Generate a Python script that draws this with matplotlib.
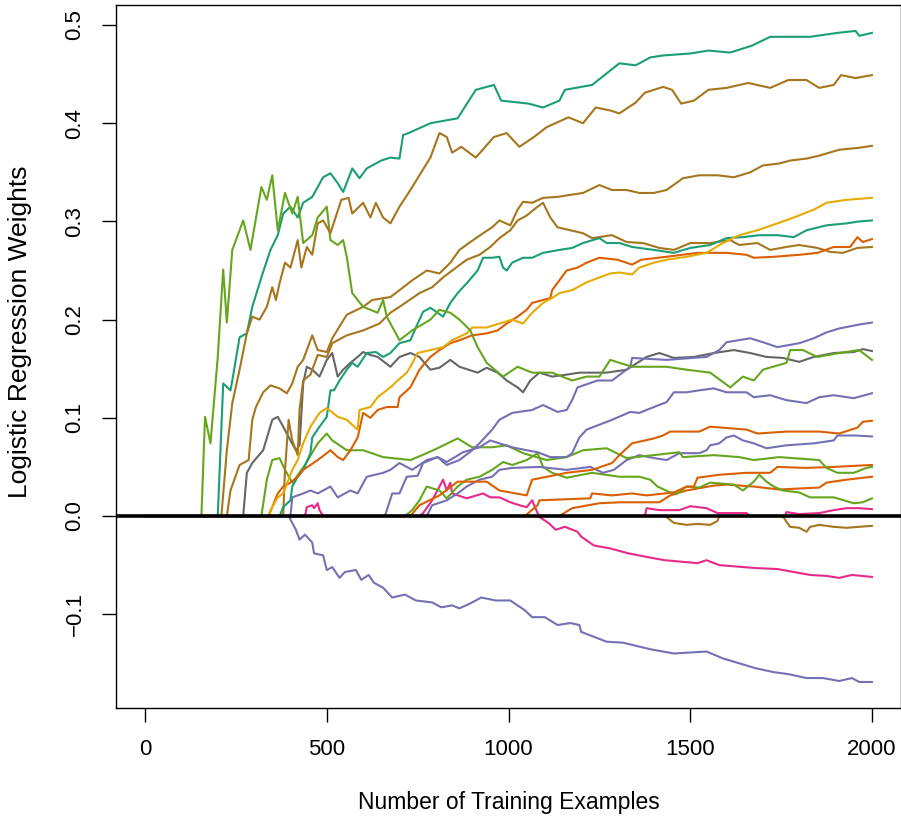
import matplotlib
matplotlib.use("Agg")
import matplotlib.pyplot as plt

plt.rcParams['font.family'] = ['Liberation Sans', 'DejaVu Sans']

# =========================
# DATA (weights vs number of training examples)
# =========================
teal_a_x = [0, 200, 215, 235, 240, 260, 280, 295, 320, 345, 365, 380, 400, 420, 435, 460, 490, 510, 530, 545,
            565, 570, 590, 610, 650, 675, 700, 710, 725, 785, 860, 910, 960, 980, 1055, 1095, 1140, 1155, 1230,
            1305, 1350, 1390, 1425, 1500, 1550, 1610, 1670, 1720, 1830, 1905, 1955, 1965, 2000]
teal_a_y = [0, 0, 0.135, 0.128, 0.138, 0.182, 0.186, 0.213, 0.243, 0.271, 0.286, 0.308, 0.315, 0.304, 0.319,
            0.325, 0.345, 0.349, 0.339, 0.330, 0.349, 0.354, 0.344, 0.354, 0.362, 0.365, 0.364, 0.388, 0.390,
            0.400, 0.405, 0.434, 0.439, 0.423, 0.420, 0.416, 0.423, 0.434, 0.439, 0.461, 0.459, 0.467, 0.469,
            0.471, 0.474, 0.472, 0.479, 0.488, 0.488, 0.492, 0.494, 0.489, 0.492]

brown_a_x = [0, 210, 225, 240, 260, 280, 295, 315, 335, 350, 360, 370, 385, 400, 420, 430, 445, 460, 475, 490,
             510, 540, 560, 570, 600, 620, 635, 655, 675, 700, 730, 785, 810, 830, 845, 870, 910, 960, 995,
             1030, 1070, 1105, 1165, 1205, 1240, 1280, 1305, 1350, 1375, 1425, 1450, 1475, 1510, 1550, 1600,
             1660, 1720, 1770, 1820, 1855, 1895, 1915, 1955, 2000]
brown_a_y = [0, 0, 0.067, 0.115, 0.149, 0.186, 0.203, 0.200, 0.213, 0.233, 0.220, 0.237, 0.258, 0.253, 0.281,
             0.253, 0.274, 0.266, 0.298, 0.301, 0.288, 0.322, 0.324, 0.308, 0.319, 0.304, 0.319, 0.304, 0.298,
             0.315, 0.332, 0.365, 0.390, 0.386, 0.370, 0.376, 0.365, 0.386, 0.390, 0.376, 0.386, 0.396, 0.406,
             0.400, 0.416, 0.413, 0.410, 0.421, 0.431, 0.437, 0.434, 0.420, 0.423, 0.434, 0.436, 0.441, 0.436,
             0.444, 0.444, 0.436, 0.439, 0.449, 0.446, 0.449]

brown_b_x = [0, 225, 235, 260, 285, 295, 305, 325, 345, 370, 390, 405, 420, 435, 460, 475, 500, 515, 555, 600,
             625, 675, 700, 735, 775, 810, 840, 865, 895, 930, 955, 975, 1005, 1025, 1040, 1065, 1095, 1135,
             1170, 1205, 1250, 1285, 1325, 1360, 1400, 1435, 1480, 1525, 1575, 1620, 1665, 1700, 1745, 1775,
             1820, 1855, 1910, 1965, 2000]
brown_b_y = [0, 0, 0.026, 0.052, 0.057, 0.098, 0.111, 0.126, 0.133, 0.130, 0.125, 0.135, 0.152, 0.159, 0.184,
             0.169, 0.167, 0.181, 0.205, 0.213, 0.220, 0.223, 0.230, 0.240, 0.250, 0.247, 0.258, 0.271, 0.279,
             0.288, 0.294, 0.301, 0.296, 0.312, 0.320, 0.319, 0.324, 0.325, 0.327, 0.329, 0.337, 0.332, 0.332,
             0.329, 0.329, 0.332, 0.344, 0.347, 0.347, 0.345, 0.350, 0.357, 0.359, 0.362, 0.364, 0.367, 0.373,
             0.375, 0.377]

brown_c_x = [0, 380, 385, 395, 405, 420, 425, 435, 455, 475, 500, 515, 555, 600, 645, 675, 700, 755, 790, 820,
             845, 885, 920, 950, 975, 1005, 1025, 1050, 1080, 1095, 1115, 1135, 1170, 1205, 1230, 1285, 1325,
             1370, 1415, 1455, 1500, 1555, 1610, 1635, 1685, 1720, 1765, 1800, 1850, 1885, 1920, 1960, 2000]
brown_c_y = [0, 0, 0.047, 0.098, 0.077, 0.062, 0.108, 0.138, 0.144, 0.164, 0.162, 0.176, 0.184, 0.189, 0.196,
             0.207, 0.213, 0.227, 0.233, 0.243, 0.250, 0.261, 0.266, 0.274, 0.283, 0.291, 0.301, 0.306, 0.315,
             0.319, 0.304, 0.294, 0.291, 0.288, 0.283, 0.286, 0.279, 0.278, 0.273, 0.271, 0.278, 0.278, 0.281,
             0.276, 0.278, 0.271, 0.274, 0.276, 0.273, 0.269, 0.268, 0.273, 0.274]

brown_d_x = [0, 1430, 1435, 1455, 1490, 1520, 1555, 1575, 1580, 1755, 1765, 1775, 1800, 1820, 1830, 1855,
             1895, 1930, 1965, 2000]
brown_d_y = [0, 0, -0.001, -0.007, -0.009, -0.008, -0.009, -0.005, 0, 0, -0.006, -0.011, -0.012, -0.016,
             -0.011, -0.009, -0.011, -0.012, -0.011, -0.010]

teal_b_x = [0, 370, 380, 400, 405, 420, 435, 455, 460, 480, 500, 510, 520, 535, 555, 570, 585, 610, 635, 655,
            675, 700, 730, 750, 765, 785, 805, 820, 840, 860, 885, 915, 930, 955, 975, 985, 995, 1010, 1040,
            1065, 1095, 1140, 1175, 1205, 1250, 1270, 1305, 1340, 1400, 1455, 1500, 1555, 1600, 1645, 1690,
            1740, 1785, 1820, 1875, 1930, 1965, 2000]
teal_b_y = [0, 0, 0.009, 0.016, 0.030, 0.040, 0.047, 0.064, 0.080, 0.091, 0.101, 0.128, 0.128, 0.138, 0.149,
            0.156, 0.152, 0.166, 0.167, 0.162, 0.166, 0.176, 0.179, 0.196, 0.208, 0.212, 0.207, 0.203, 0.217,
            0.227, 0.237, 0.250, 0.263, 0.263, 0.264, 0.253, 0.250, 0.258, 0.263, 0.263, 0.268, 0.271, 0.273,
            0.278, 0.283, 0.278, 0.278, 0.274, 0.271, 0.268, 0.273, 0.276, 0.283, 0.284, 0.286, 0.286, 0.284,
            0.291, 0.296, 0.298, 0.300, 0.301]

yellow_x = [0, 340, 345, 365, 380, 405, 420, 435, 455, 480, 500, 530, 555, 585, 590, 620, 640, 675, 695, 720,
            730, 750, 785, 820, 845, 885, 900, 940, 975, 1010, 1040, 1065, 1095, 1120, 1140, 1175, 1215, 1250,
            1280, 1305, 1340, 1360, 1400, 1435, 1490, 1545, 1590, 1635, 1685, 1740, 1785, 1840, 1875, 1930,
            2000]
yellow_y = [0, 0, 0.006, 0.019, 0.023, 0.047, 0.057, 0.074, 0.091, 0.105, 0.110, 0.101, 0.098, 0.088, 0.108,
            0.111, 0.121, 0.131, 0.138, 0.146, 0.152, 0.166, 0.169, 0.172, 0.179, 0.186, 0.192, 0.192, 0.196,
            0.200, 0.196, 0.207, 0.217, 0.222, 0.227, 0.230, 0.238, 0.243, 0.247, 0.248, 0.246, 0.253, 0.258,
            0.261, 0.264, 0.268, 0.278, 0.286, 0.291, 0.298, 0.304, 0.312, 0.319, 0.322, 0.324]

orange_a_x = [0, 340, 365, 380, 400, 420, 435, 475, 500, 510, 530, 545, 565, 585, 600, 620, 640, 665, 695, 700,
              730, 755, 785, 810, 840, 865, 900, 940, 970, 995, 1025, 1050, 1065, 1095, 1115, 1120, 1140, 1160,
              1190, 1215, 1250, 1300, 1340, 1365, 1435, 1520, 1600, 1655, 1675, 1730, 1800, 1850, 1895, 1940,
              1960, 1975, 2000]
orange_a_y = [0, 0, 0.023, 0.030, 0.034, 0.040, 0.047, 0.057, 0.064, 0.067, 0.060, 0.057, 0.067, 0.080, 0.105,
              0.100, 0.108, 0.111, 0.111, 0.121, 0.131, 0.149, 0.162, 0.169, 0.176, 0.179, 0.184, 0.186, 0.189,
              0.196, 0.203, 0.210, 0.217, 0.220, 0.222, 0.230, 0.240, 0.250, 0.253, 0.258, 0.263, 0.261, 0.256,
              0.261, 0.264, 0.268, 0.268, 0.266, 0.263, 0.264, 0.266, 0.268, 0.274, 0.274, 0.284, 0.279, 0.282]

grey_x = [0, 270, 280, 295, 325, 350, 365, 380, 400, 415, 425, 435, 445, 460, 480, 500, 515, 530, 545, 565,
          585, 600, 620, 640, 675, 700, 730, 755, 785, 810, 840, 865, 915, 940, 970, 995, 1025, 1040, 1060,
          1085, 1120, 1160, 1195, 1270, 1325, 1380, 1415, 1455, 1510, 1565, 1620, 1665, 1710, 1755, 1800,
          1840, 1895, 1950, 1975, 2000]
grey_y = [0, 0, 0.044, 0.054, 0.067, 0.098, 0.101, 0.091, 0.077, 0.067, 0.072, 0.135, 0.152, 0.149, 0.142,
          0.159, 0.166, 0.142, 0.149, 0.156, 0.162, 0.167, 0.164, 0.162, 0.152, 0.162, 0.166, 0.162, 0.149,
          0.151, 0.159, 0.152, 0.146, 0.151, 0.146, 0.138, 0.131, 0.126, 0.138, 0.146, 0.142, 0.144, 0.146,
          0.146, 0.149, 0.162, 0.166, 0.161, 0.162, 0.166, 0.169, 0.166, 0.162, 0.161, 0.157, 0.162, 0.166,
          0.167, 0.170, 0.168]

green_a_x = [0, 155, 165, 180, 200, 215, 225, 240, 270, 290, 320, 335, 350, 365, 385, 405, 420, 435, 460, 475,
             500, 510, 530, 545, 555, 570, 600, 640, 655, 665, 700, 735, 785, 810, 840, 865, 895, 915, 940, 985,
             1025, 1065, 1120, 1175, 1215, 1250, 1280, 1340, 1435, 1490, 1555, 1610, 1645, 1675, 1700, 1765,
             1775, 1810, 1850, 1910, 1965, 2000]
green_a_y = [0, 0, 0.101, 0.074, 0.162, 0.251, 0.197, 0.271, 0.301, 0.271, 0.335, 0.322, 0.347, 0.291, 0.329,
             0.308, 0.325, 0.278, 0.286, 0.304, 0.315, 0.281, 0.276, 0.281, 0.264, 0.227, 0.213, 0.207, 0.220,
             0.203, 0.179, 0.189, 0.200, 0.210, 0.207, 0.200, 0.189, 0.172, 0.156, 0.142, 0.152, 0.146, 0.146,
             0.138, 0.142, 0.142, 0.159, 0.152, 0.152, 0.149, 0.146, 0.131, 0.142, 0.138, 0.149, 0.156, 0.169,
             0.169, 0.162, 0.166, 0.169, 0.159]

purple_a_x = [0, 400, 405, 435, 455, 475, 510, 530, 565, 585, 610, 655, 675, 700, 735, 775, 805, 830, 865, 900,
              920, 955, 975, 1010, 1065, 1095, 1135, 1160, 1175, 1190, 1245, 1285, 1335, 1340, 1435, 1545, 1580,
              1600, 1665, 1700, 1740, 1800, 1840, 1875, 1910, 1965, 2000]
purple_a_y = [0, 0, 0.019, 0.023, 0.026, 0.023, 0.030, 0.019, 0.026, 0.023, 0.040, 0.044, 0.047, 0.054, 0.047,
              0.057, 0.060, 0.052, 0.057, 0.067, 0.074, 0.088, 0.098, 0.105, 0.108, 0.113, 0.106, 0.108, 0.118,
              0.131, 0.138, 0.138, 0.152, 0.161, 0.159, 0.162, 0.169, 0.177, 0.181, 0.177, 0.172, 0.176, 0.181,
              0.187, 0.191, 0.195, 0.197]

purple_b_x = [0, 660, 680, 700, 720, 750, 765, 805, 830, 875, 920, 950, 975, 1010, 1050, 1080, 1115, 1160, 1175,
              1195, 1215, 1250, 1285, 1335, 1360, 1400, 1435, 1455, 1490, 1525, 1565, 1600, 1655, 1675, 1720,
              1765, 1820, 1855, 1895, 1950, 2000]
purple_b_y = [0, 0, 0.023, 0.023, 0.040, 0.041, 0.054, 0.060, 0.055, 0.065, 0.070, 0.077, 0.074, 0.070, 0.067,
              0.065, 0.060, 0.060, 0.064, 0.080, 0.088, 0.093, 0.098, 0.106, 0.105, 0.111, 0.116, 0.126, 0.126,
              0.128, 0.130, 0.126, 0.126, 0.121, 0.123, 0.118, 0.115, 0.121, 0.123, 0.120, 0.125]

purple_c_x = [0, 775, 790, 830, 860, 885, 920, 955, 975, 1010, 1085, 1160, 1225, 1260, 1290, 1325, 1360, 1400,
              1435, 1470, 1525, 1545, 1555, 1580, 1600, 1620, 1645, 1675, 1710, 1765, 1840, 1895, 1905, 1955,
              2000]
purple_c_y = [0, 0, 0.011, 0.016, 0.023, 0.030, 0.037, 0.040, 0.047, 0.049, 0.050, 0.047, 0.050, 0.044, 0.047,
              0.057, 0.062, 0.059, 0.057, 0.064, 0.064, 0.067, 0.072, 0.074, 0.080, 0.082, 0.077, 0.074, 0.069,
              0.072, 0.074, 0.077, 0.082, 0.082, 0.081]

purple_d_x = [0, 395, 415, 425, 440, 460, 465, 490, 500, 515, 535, 550, 580, 595, 615, 630, 655, 680, 715, 745,
              790, 815, 845, 865, 895, 925, 965, 1005, 1045, 1065, 1100, 1135, 1170, 1195, 1200, 1235, 1270,
              1315, 1360, 1395, 1455, 1500, 1545, 1590, 1635, 1680, 1730, 1770, 1820, 1865, 1910, 1945, 1965,
              2000]
purple_d_y = [0, 0, -0.014, -0.024, -0.019, -0.027, -0.038, -0.040, -0.055, -0.052, -0.063, -0.057, -0.055,
              -0.065, -0.060, -0.068, -0.073, -0.083, -0.080, -0.086, -0.088, -0.093, -0.091, -0.094, -0.089,
              -0.083, -0.086, -0.086, -0.096, -0.103, -0.103, -0.111, -0.109, -0.111, -0.118, -0.123, -0.128,
              -0.129, -0.133, -0.136, -0.140, -0.139, -0.138, -0.145, -0.150, -0.155, -0.159, -0.161, -0.165,
              -0.165, -0.168, -0.165, -0.169, -0.169]

pink_a_x = [0, 755, 765, 790, 810, 820, 830, 840, 845, 885, 930, 950, 975, 1005, 1030, 1050, 1065, 1080, 1085,
            1110, 1130, 1155, 1190, 1200, 1235, 1280, 1330, 1385, 1430, 1520, 1545, 1580, 1680, 1740, 1785,
            1830, 1875, 1910, 1945, 2000]
pink_a_y = [0, 0, 0.003, 0.016, 0.030, 0.037, 0.026, 0.034, 0.023, 0.018, 0.023, 0.019, 0.019, 0.014, 0.011,
            0.009, 0.016, 0.003, -0.001, -0.007, -0.014, -0.011, -0.016, -0.021, -0.030, -0.033, -0.038,
            -0.042, -0.045, -0.048, -0.045, -0.050, -0.053, -0.054, -0.057, -0.060, -0.061, -0.063, -0.060,
            -0.062]

pink_b_x = [0, 440, 445, 460, 465, 475, 480, 490, 1375, 1380, 1415, 1470, 1500, 1545, 1575, 1655, 1665, 1760,
            1765, 1800, 1855, 1895, 1930, 1965, 2000]
pink_b_y = [0, 0, 0.009, 0.011, 0.008, 0.013, 0.006, 0, 0, 0.008, 0.006, 0.006, 0.010, 0.008, 0.003, 0.003, 0,
            0, 0.004, 0.002, 0.003, 0.006, 0.008, 0.008, 0.007]

green_b_x = [0, 320, 335, 350, 370, 385, 405, 440, 475, 500, 515, 555, 600, 655, 730, 775, 810, 860, 900, 955,
             995, 1040, 1105, 1160, 1205, 1270, 1325, 1400, 1470, 1480, 1565, 1635, 1675, 1745, 1855, 1875,
             1905, 1950, 1985, 2000]
green_b_y = [0, 0, 0.037, 0.057, 0.059, 0.047, 0.034, 0.052, 0.074, 0.084, 0.077, 0.067, 0.067, 0.060, 0.057,
             0.064, 0.070, 0.079, 0.070, 0.070, 0.072, 0.064, 0.057, 0.060, 0.067, 0.069, 0.059, 0.062, 0.065,
             0.060, 0.062, 0.060, 0.057, 0.060, 0.057, 0.049, 0.044, 0.044, 0.049, 0.050]

green_c_x = [0, 715, 735, 755, 775, 810, 830, 860, 885, 920, 955, 985, 1010, 1050, 1080, 1095, 1120, 1160, 1230,
             1305, 1360, 1390, 1410, 1445, 1465, 1490, 1525, 1555, 1620, 1645, 1675, 1690, 1710, 1730, 1755,
             1800, 1830, 1895, 1950, 1975, 2000]
green_c_y = [0, 0, 0.006, 0.016, 0.030, 0.026, 0.018, 0.030, 0.037, 0.040, 0.047, 0.055, 0.052, 0.057, 0.064,
             0.050, 0.044, 0.039, 0.044, 0.040, 0.040, 0.037, 0.030, 0.024, 0.023, 0.030, 0.029, 0.034, 0.032,
             0.026, 0.035, 0.042, 0.035, 0.030, 0.026, 0.024, 0.019, 0.019, 0.013, 0.014, 0.018]

orange_b_x = [0, 730, 755, 810, 860, 940, 975, 1050, 1065, 1160, 1230, 1285, 1305, 1340, 1400, 1425, 1445, 1525,
              1555, 1655, 1685, 1765, 1855, 1910, 1960, 1975, 2000]
orange_b_y = [0, 0, 0.011, 0.021, 0.035, 0.035, 0.026, 0.021, 0.037, 0.044, 0.047, 0.054, 0.062, 0.074, 0.079,
              0.082, 0.086, 0.086, 0.091, 0.088, 0.084, 0.086, 0.086, 0.084, 0.090, 0.096, 0.097]

orange_c_x = [0, 1045, 1080, 1085, 1225, 1230, 1285, 1340, 1380, 1455, 1490, 1510, 1520, 1580, 1655, 1720, 1740,
              1820, 1895, 2000]
orange_c_y = [0, 0, 0.011, 0.016, 0.018, 0.023, 0.021, 0.023, 0.021, 0.024, 0.030, 0.030, 0.039, 0.042, 0.044,
              0.044, 0.050, 0.049, 0.050, 0.052]

orange_d_x = [0, 1140, 1175, 1250, 1305, 1415, 1445, 1490, 1565, 1600, 1675, 1745, 1855, 1875, 1930, 2000]
orange_d_y = [0, 0, 0.008, 0.013, 0.014, 0.014, 0.021, 0.026, 0.031, 0.032, 0.030, 0.027, 0.029, 0.034, 0.037,
              0.040]

# Dark2 palette
TEAL, ORANGE, PURPLE, PINK = '#1B9E77', '#D95F02', '#7570B3', '#E7298A'
GREEN, YELLOW, BROWN, GREY = '#66A61E', '#E6AB02', '#A6761D', '#666666'

series = [
    (teal_a_x, teal_a_y, TEAL),
    (orange_d_x, orange_d_y, ORANGE),
    (purple_d_x, purple_d_y, PURPLE),
    (pink_a_x, pink_a_y, PINK),
    (green_c_x, green_c_y, GREEN),
    (brown_d_x, brown_d_y, BROWN),
    (orange_c_x, orange_c_y, ORANGE),
    (purple_c_x, purple_c_y, PURPLE),
    (pink_b_x, pink_b_y, PINK),
    (green_b_x, green_b_y, GREEN),
    (orange_b_x, orange_b_y, ORANGE),
    (purple_b_x, purple_b_y, PURPLE),
    (grey_x, grey_y, GREY),
    (brown_c_x, brown_c_y, BROWN),
    (teal_b_x, teal_b_y, TEAL),
    (orange_a_x, orange_a_y, ORANGE),
    (yellow_x, yellow_y, YELLOW),
    (purple_a_x, purple_a_y, PURPLE),
    (brown_b_x, brown_b_y, BROWN),
    (green_a_x, green_a_y, GREEN),
    (brown_a_x, brown_a_y, BROWN),
]

# =========================
# PLOT
# =========================
fig = plt.figure(figsize=(9.01, 8.18), dpi=100)
ax = fig.add_axes([116 / 901, 110 / 818, 785 / 901, 703 / 818])

for xs, ys, col in series:
    ax.plot(xs, ys, color=col, lw=1.5, solid_joinstyle='round')

ax.axhline(0, color='black', lw=2.6)

ax.set_xlim(-80, 2080)
ax.set_ylim(-0.1955, 0.5204)

ax.set_xticks([0, 500, 1000, 1500, 2000])
ax.set_yticks([-0.1, 0.0, 0.1, 0.2, 0.3, 0.4, 0.5])
ax.set_yticklabels(['\u22120.1', '0.0', '0.1', '0.2', '0.3', '0.4', '0.5'])
ax.tick_params(direction='out', length=10, width=1, labelsize=16, pad=12)
for lab in ax.get_yticklabels():
    lab.set_rotation(90)
    lab.set_verticalalignment('center')

for s in ax.spines.values():
    s.set_linewidth(1)
    s.set_color('black')

ax.set_xlabel('Number of Training Examples', fontsize=16.5)
ax.set_ylabel('Logistic Regression Weights', fontsize=19)
ax.xaxis.label.set_verticalalignment('center')
ax.yaxis.label.set_verticalalignment('center')
ax.xaxis.set_label_coords(0.5, -0.135)
ax.yaxis.set_label_coords(-0.122, 0.535)

fig.savefig('out.png', dpi=100)
